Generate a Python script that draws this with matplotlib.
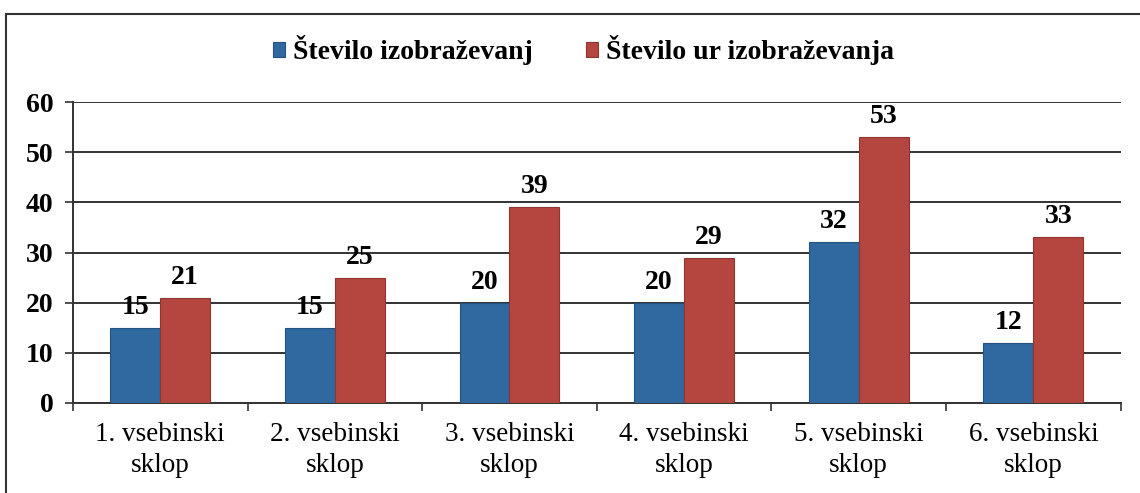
import numpy as np
import matplotlib.pyplot as plt
from matplotlib.lines import Line2D

# data
categories = ["1. vsebinski\nsklop", "2. vsebinski\nsklop", "3. vsebinski\nsklop",
              "4. vsebinski\nsklop", "5. vsebinski\nsklop", "6. vsebinski\nsklop"]
st_izobrazevanj = [15, 15, 20, 20, 32, 12]
st_ur = [21, 25, 39, 29, 53, 33]
series_names = ["Število izobraževanj", "Število ur izobraževanja"]
yticks = [0, 10, 20, 30, 40, 50, 60]

plt.rcParams['font.family'] = ['Liberation Serif', 'DejaVu Serif']

fig = plt.figure(figsize=(11.4, 4.93), dpi=100)
ax = fig.add_axes([0.064, 0.1826, 0.919, 0.6104])

blue = '#2f69a0'
red = '#b5463f'
x = np.arange(len(categories))
w = 0.286
b1 = ax.bar(x - w/2, st_izobrazevanj, w, color=blue, edgecolor='#24527e', linewidth=0.8,
            label=series_names[0], zorder=3)
b2 = ax.bar(x + w/2, st_ur, w, color=red, edgecolor='#8e3530', linewidth=0.8,
            label=series_names[1], zorder=3)

for bars in (b1, b2):
    for r in bars:
        ax.text(r.get_x() + r.get_width()/2, r.get_height() + 1.6, str(int(r.get_height())),
                ha='center', va='bottom', fontsize=20, fontweight='bold', zorder=4)

ax.set_xlim(-0.5, len(categories) - 0.5)
ax.set_ylim(0, 60)
ax.set_yticks(yticks)
ax.set_yticklabels([str(t) for t in yticks], fontsize=20, fontweight='bold')
ax.yaxis.grid(True, color='#333333', linewidth=1.4, zorder=0)
ax.set_axisbelow(True)
ax.tick_params(axis='y', length=6, width=1.2, color='#333333', pad=8)

ax.set_xticks(x)
ax.set_xticklabels(categories, fontsize=19.5, linespacing=1.3)
ax.tick_params(axis='x', length=0, pad=14)
ax.set_xticks(np.arange(-0.5, len(categories)), minor=True)
ax.tick_params(axis='x', which='minor', length=6, width=1.2, color='#333333')

for s in ['top', 'right']:
    ax.spines[s].set_visible(False)
ax.spines['left'].set_color('#333333')
ax.spines['bottom'].set_color('#333333')
ax.spines['left'].set_linewidth(1.4)
ax.spines['bottom'].set_linewidth(1.4)

fig.legend(handles=[b1, b2], labels=series_names, loc='center', bbox_to_anchor=(0.512, 0.898),
           ncol=2, frameon=False, prop={'size': 20, 'weight': 'bold'},
           handlelength=0.42, handleheight=0.42, handletextpad=0.3, columnspacing=1.9)

# outer frame (scanned, only top and left visible)
fig.add_artist(Line2D([6/1140, 1.0], [1 - 14/493, 1 - 14/493], color='#333333', linewidth=1.5))
fig.add_artist(Line2D([6/1140, 6/1140], [0, 1 - 14/493], color='#333333', linewidth=1.5))

fig.savefig('out.png', dpi=100)
